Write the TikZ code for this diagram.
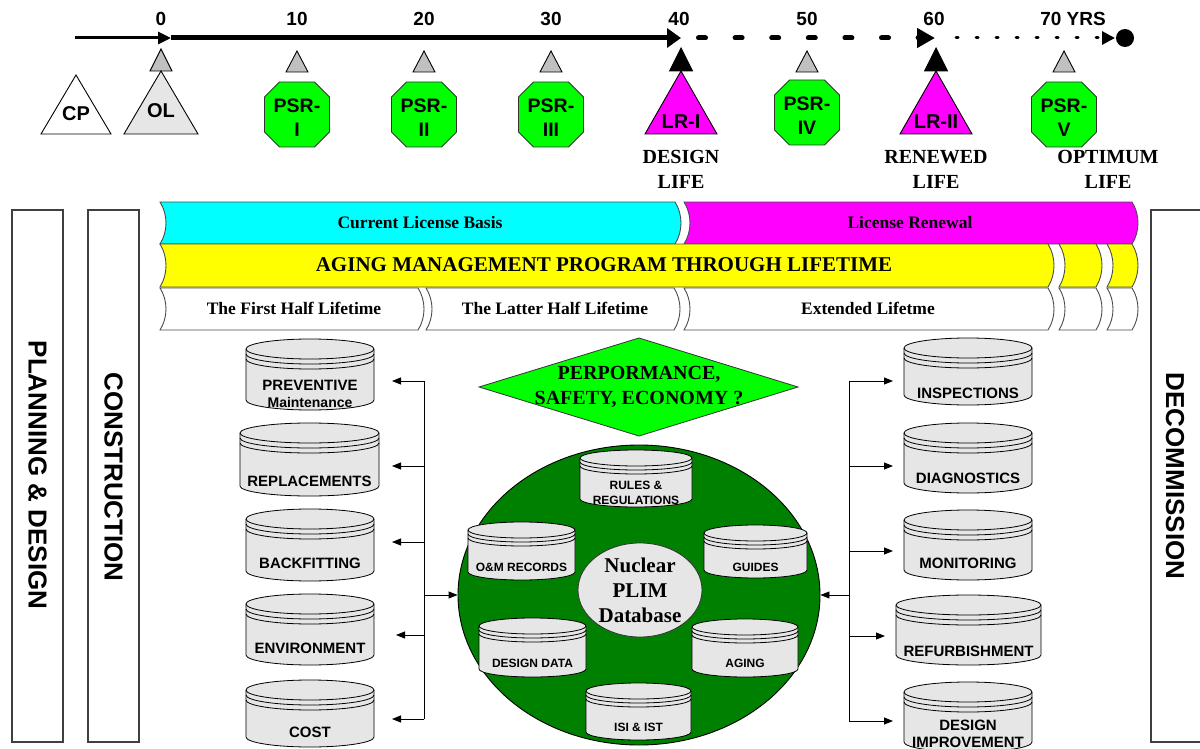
\documentclass[tikz,border=0pt]{standalone}
\usepackage{fontspec}
\newfontfamily\arial{Liberation Sans}
\newfontfamily\tnr{Liberation Serif}
\usetikzlibrary{arrows.meta,shapes.geometric}
\definecolor{cylgray}{HTML}{E6E6E6}
\definecolor{trigray}{HTML}{C0C0C0}
\definecolor{bgreen}{HTML}{00FF00}
\definecolor{dgreen}{HTML}{008000}
\definecolor{bcyan}{HTML}{00FFFF}
\definecolor{bmag}{HTML}{FF00FF}
\definecolor{byel}{HTML}{FFFF00}
\tikzset{
  tick/.style={font=\arial\bfseries\fontsize{19}{22}\selectfont, inner sep=0},
  trilab/.style={font=\arial\bfseries\fontsize{20}{24}\selectfont, inner sep=0},
  octlab/.style={font=\arial\bfseries\fontsize{19.5}{24}\selectfont, align=center, inner sep=0},
  lifelab/.style={font=\tnr\bfseries\fontsize{20}{25}\selectfont, align=center, inner sep=0},
  bandlab/.style={font=\tnr\bfseries\fontsize{17.5}{20}\selectfont, inner sep=0},
  amplab/.style={font=\tnr\bfseries\fontsize{21}{24}\selectfont, inner sep=0},
  sidebox/.style={draw=black!75, line width=1.2pt, fill=white, inner sep=0},
  sidelab/.style={font=\arial\bfseries\fontsize{26}{30}\selectfont, inner sep=0},
  cyltext/.style={font=\arial\bfseries\fontsize{15}{17}\selectfont, align=center, inner sep=0},
  incyltext/.style={font=\arial\bfseries\fontsize{12}{15}\selectfont, align=center, inner sep=0},
  cylbody/.style={draw=black, line width=0.8pt, fill=cylgray},
  cylline/.style={draw=black, line width=0.8pt},
  bandline/.style={draw=black!70, line width=0.9pt},
  octstyle/.style={draw=black!80, line width=0.8pt, fill=bgreen},
  tristyle/.style={draw=black, line width=0.9pt},
  arr/.style={line width=0.9pt, -{Triangle[length=9pt,width=7pt]}},
  bus/.style={line width=0.9pt},
  dialab/.style={font=\tnr\bfseries\fontsize{20}{25}\selectfont, align=center, inner sep=0},
  plimlab/.style={font=\tnr\bfseries\fontsize{21}{25}\selectfont, align=center, inner sep=0},
}
% database cylinder: name, x1, x2, top, bottom, ry, text style, text y, text
\newcommand\dbcyl[9]{%
  \pgfmathsetmacro\cyCX{(#2+#3)/2}%
  \pgfmathsetmacro\cyRX{(#3-#2)/2}%
  \pgfmathsetmacro\cyYT{#4+#6}%
  \pgfmathsetmacro\cyYB{#5-#6}%
  \pgfmathsetmacro\cyKX{0.5523*\cyRX}%
  \pgfmathsetmacro\cyKY{0.5523*#6}%
  \pgfmathsetmacro\cyDD{0.5*#6}%
  \filldraw[cylbody] ({#2},{\cyYT}) .. controls ({#2},{\cyYT-\cyKY}) and ({\cyCX-\cyKX},{#4}) .. ({\cyCX},{#4})
     .. controls ({\cyCX+\cyKX},{#4}) and ({#3},{\cyYT-\cyKY}) .. ({#3},{\cyYT})
     -- ({#3},{\cyYB}) .. controls ({#3},{\cyYB+\cyKY}) and ({\cyCX+\cyKX},{#5}) .. ({\cyCX},{#5})
     .. controls ({\cyCX-\cyKX},{#5}) and ({#2},{\cyYB+\cyKY}) .. ({#2},{\cyYB}) -- cycle;
  \foreach \cyD in {0,1,2} {
    \draw[cylline] ({#2},{\cyYT+\cyD*\cyDD}) .. controls ({#2},{\cyYT+\cyD*\cyDD+\cyKY}) and ({\cyCX-\cyKX},{\cyYT+\cyD*\cyDD+#6}) .. ({\cyCX},{\cyYT+\cyD*\cyDD+#6})
      .. controls ({\cyCX+\cyKX},{\cyYT+\cyD*\cyDD+#6}) and ({#3},{\cyYT+\cyD*\cyDD+\cyKY}) .. ({#3},{\cyYT+\cyD*\cyDD});
  }
  \node[#7] (#1) at ({\cyCX},{#8}) {#9};
}
% band segment with curved ends: x1, x2, top, bottom, fill
\newcommand\band[5]{%
  \pgfmathsetmacro\bdA{#3+0.3*(#4-#3)}%
  \pgfmathsetmacro\bdB{#4-0.3*(#4-#3)}%
  \filldraw[bandline, fill=#5] ({#1},{#3}) .. controls ({#1+8},{\bdA}) and ({#1+8},{\bdB}) .. ({#1},{#4}) -- ({#2},{#4})
     .. controls ({#2+8},{\bdB}) and ({#2+8},{\bdA}) .. ({#2},{#3}) -- cycle;
}
% octagon: name, cx, cy, text
\newcommand\octo[4]{%
  \filldraw[octstyle] ({#2-32.5},{#3-17.5}) -- ({#2-17.5},{#3-32.5}) -- ({#2+17.5},{#3-32.5}) -- ({#2+32.5},{#3-17.5})
     -- ({#2+32.5},{#3+17.5}) -- ({#2+17.5},{#3+32.5}) -- ({#2-17.5},{#3+32.5}) -- ({#2-32.5},{#3+17.5}) -- cycle;
  \node[octlab] (#1) at ({#2},{#3+3}) {#4};
}
% triangle: style, x, apex y, base y, half width
\newcommand\trishape[5]{%
  \filldraw[tristyle,#1] ({#2-#5},{#4}) -- ({#2},{#3}) -- ({#2+#5},{#4}) -- cycle;
}
\begin{document}
\begin{tikzpicture}[x=1pt,y=-1pt]
\useasboundingbox (0,0) rectangle (1200,749);
\fill[white] (0,0) rectangle (1200,749);

% ---------- side boxes ----------
\node[sidebox, minimum width=51, minimum height=532] (planbox) at (37.5,476) {};
\node[sidelab, rotate=-90] (plan) at (37.5,475) {PLANNING \& DESIGN};
\node[sidebox, minimum width=51, minimum height=532] (consbox) at (113.5,476) {};
\node[sidelab, rotate=-90] (cons) at (113.5,477) {CONSTRUCTION};
\node[sidebox, minimum width=56, minimum height=532] (decbox) at (1179,476) {};
\node[sidelab, rotate=-90] (dec) at (1175,476) {DECOMMISSION};

% ---------- timeline ----------
\coordinate (tS) at (75,38);
\coordinate (t0) at (171,38);
\coordinate (t40) at (681,38);
\coordinate (tD) at (698.5,38);
\coordinate (t60) at (935,38);
\coordinate (tT) at (956,38);
\coordinate (tE) at (1115,38);
\coordinate (tEnd) at (1125,38);
\draw[line width=3pt, -{Triangle[length=13pt,width=12pt]}] (tS) -- (t0);
\draw[line width=5pt, -{Triangle[length=14pt,width=19pt]}] (t0) -- (t40);
\draw[line width=5pt, line cap=round, dash pattern=on 7pt off 29.6pt, -{Triangle[length=18pt,width=19pt]}] (tD) -- (t60);
\draw[line width=3pt, line cap=round, dash pattern=on 2pt off 18pt, -{Triangle[length=13pt,width=13pt]}] (tT) -- (tE);
\fill (tEnd) circle (9);

\node[tick] (y0) at (161,19) {0};
\node[tick] (y10) at (297,19) {10};
\node[tick] (y20) at (424,19) {20};
\node[tick] (y30) at (551,19) {30};
\node[tick] (y40) at (679,19) {40};
\node[tick] (y50) at (807,19) {50};
\node[tick] (y60) at (934,19) {60};
\node[tick] (y70) at (1073,19) {70 YRS};

% markers
\trishape{fill=trigray}{161}{49}{71}{11}
\trishape{fill=trigray}{297}{51}{72}{11}
\trishape{fill=trigray}{424}{51}{72}{11}
\trishape{fill=trigray}{551}{51}{72}{11}
\trishape{fill=trigray}{807}{51}{72}{11}
\trishape{fill=trigray}{1064}{51}{72}{11}
\trishape{fill=black}{681}{48}{71}{11.5}
\trishape{fill=black}{936}{48}{71}{11.5}

% big triangles
\trishape{fill=white}{76}{75}{134}{35}
\node[trilab] (cp) at (76,114) {CP};
\trishape{fill=cylgray}{161}{71}{134}{37}
\node[trilab] (ol) at (161,111) {OL};
\trishape{fill=bmag}{681}{71}{134}{36}
\node[trilab] (lr1) at (681,122) {LR-I};
\trishape{fill=bmag}{936}{71}{134}{36}
\node[trilab] (lr2) at (936,122) {LR-II};

% octagons
\octo{psr1}{297}{114.5}{PSR-\\I}
\octo{psr2}{424}{114.5}{PSR-\\II}
\octo{psr3}{551}{114.5}{PSR-\\III}
\octo{psr4}{807}{112.5}{PSR-\\IV}
\octo{psr5}{1064}{114.5}{PSR-\\V}

\node[lifelab] (dlife) at (681,169) {DESIGN\\LIFE};
\node[lifelab] (rlife) at (936,169) {RENEWED\\LIFE};
\node[lifelab] (olife) at (1108,169) {OPTIMUM\\LIFE};

% ---------- bands ----------
\band{160}{675}{202}{244}{bcyan}
\band{684}{1132}{202}{244}{bmag}
\band{160}{1048}{244}{287}{byel}
\band{1059}{1096}{244}{287}{byel}
\band{1107}{1132}{244}{287}{byel}
\band{160}{418}{288}{330}{white}
\band{426}{674}{288}{330}{white}
\band{684}{1048}{288}{330}{white}
\band{1059}{1096}{288}{330}{white}
\band{1107}{1132}{288}{330}{white}
\node[bandlab] (clb) at (420,223) {Current License Basis};
\node[bandlab] (lren) at (910,223) {License Renewal};
\node[amplab] (amp) at (604,265) {AGING MANAGEMENT PROGRAM THROUGH LIFETIME};
\node[bandlab] (fh) at (294,308) {The First Half Lifetime};
\node[bandlab] (lh) at (555,308) {The Latter Half Lifetime};
\node[bandlab] (ext) at (868,308) {Extended Lifetme};

% ---------- diamond ----------
\filldraw[draw=black!80, line width=0.8pt, fill=bgreen] (479,387) -- (639,338) -- (798,387) -- (639,436) -- cycle;
\node[dialab] (psq) at (639,387) {PERPORMANCE,\\SAFETY, ECONOMY ?};

% ---------- central database ----------
\node[ellipse, draw=black, line width=0.9pt, fill=dgreen, minimum width=362, minimum height=300, inner sep=0] (db) at (639,595) {};
\node[ellipse, draw=black!80, line width=0.8pt, fill=cylgray, minimum width=124, minimum height=94, inner sep=0] (plimc) at (640,590) {};
\node[plimlab] (plim) at (640,590) {Nuclear\\PLIM\\Database};

\dbcyl{rules}{580}{692}{450}{507}{8}{incyltext}{493}{RULES \&\\REGULATIONS}
\dbcyl{om}{468}{575}{522}{580}{8}{incyltext}{567}{O\&M RECORDS}
\dbcyl{guides}{704}{807}{525}{578}{8}{incyltext}{567}{GUIDES}
\dbcyl{ddata}{479}{586}{618}{677}{8}{incyltext}{663}{DESIGN DATA}
\dbcyl{aging}{692}{798}{619}{677}{8}{incyltext}{663}{AGING}
\dbcyl{isi}{586}{691}{683}{740}{8}{incyltext}{727}{ISI \& IST}

% ---------- left cylinders ----------
\dbcyl{prev}{246}{374}{339}{410}{10}{cyltext}{393.5}{PREVENTIVE\\{\fontsize{14}{16}\selectfont Maintenance}}
\dbcyl{repl}{240}{379}{423}{496}{10}{cyltext}{481}{REPLACEMENTS}
\dbcyl{back}{246}{374}{509}{581}{10}{cyltext}{563}{BACKFITTING}
\dbcyl{env}{246}{374}{594}{665}{10}{cyltext}{648}{ENVIRONMENT}
\dbcyl{cost}{246}{374}{680}{747}{10}{cyltext}{732}{COST}

% ---------- right cylinders ----------
\dbcyl{insp}{904}{1032}{338}{405}{10}{cyltext}{393}{INSPECTIONS}
\dbcyl{diag}{904}{1032}{423}{493}{10}{cyltext}{478}{DIAGNOSTICS}
\dbcyl{moni}{904}{1032}{510}{580}{10}{cyltext}{563}{MONITORING}
\dbcyl{refu}{896}{1041}{595}{665}{10}{cyltext}{651}{REFURBISHMENT}
\dbcyl{desi}{904}{1032}{682}{752}{10}{cyltext}{734}{DESIGN\\IMPROVEMENT}

% ---------- left connectors ----------
\coordinate (Lt) at (424,381);
\coordinate (Lb) at (424,719);
\coordinate (La1) at (392,381);
\coordinate (La2) at (392,466);
\coordinate (La3) at (392,542);
\coordinate (La4) at (396,635);
\coordinate (La5) at (392,719);
\draw[bus] (Lt) -- (Lb);
\foreach \k in {1,...,5} { \draw[arr] (Lt |- La\k) -- (La\k); }
\draw[arr] (Lt |- db.west) -- (db.west);

% ---------- right connectors ----------
\coordinate (Rt) at (849,381);
\coordinate (Rb) at (849,721);
\coordinate (Ra1) at (893,381);
\coordinate (Ra2) at (893,466);
\coordinate (Ra3) at (893,551);
\coordinate (Ra4) at (885,636);
\coordinate (Ra5) at (893,721);
\draw[bus] (Rt) -- (Rb);
\foreach \k in {1,...,5} { \draw[arr] (Rt |- Ra\k) -- (Ra\k); }
\draw[arr] (Rt |- db.east) -- (db.east);
\end{tikzpicture}
\end{document}
